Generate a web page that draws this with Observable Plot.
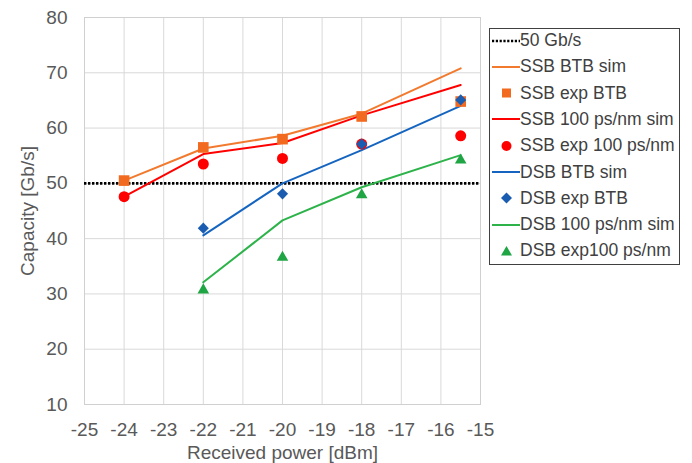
<!DOCTYPE html>
<html>
<head>
<meta charset="utf-8">
<script src="https://cdn.jsdelivr.net/npm/d3@7"></script>
<script src="https://cdn.jsdelivr.net/npm/@observablehq/plot@0.6"></script>
<style>
  html, body { margin: 0; padding: 0; background: #fff; }
  #wrap { position: relative; width: 692px; height: 463px; font-family: "Liberation Sans", Arial, sans-serif; }
  #legend { position: absolute; left: 489px; top: 28px; width: 191px; height: 237px; border: 1px solid #404040; box-sizing: border-box; }
  .row { position: absolute; left: 0; height: 22px; display: flex; align-items: center; }
  .row svg { width: 30px; height: 22px; flex: none; }
  .row span { font-size: 17.5px; color: #404040; margin-left: 0px; white-space: nowrap; }
</style>
</head>
<body>
<div id="wrap"></div>
<script>
// Data
const power = [-24, -22, -20, -18, -15.5];
const powerDsb = [-22, -20, -18, -15.5];
const ssbBtbSim = [50.5, 56.3, 58.6, 62.6, 70.8];
const ssbBtbExp = [50.5, 56.5, 58.0, 62.1, 64.8];
const ssb100Sim = [47.6, 55.3, 57.3, 62.3, 67.8];
const ssb100Exp = [47.6, 53.5, 54.5, 57.1, 58.6];
const dsbBtbSim = [40.6, 50.0, 56.0, 64.0];
const dsbBtbExp = [41.9, 48.1, 57.1, 65.1];
const dsb100Sim = [32.1, 43.3, 49.3, 55.1];
const dsb100Exp = [30.7, 36.6, 47.9, 54.2];
const threshold = [50];
const xTicks = [-25, -24, -23, -22, -21, -20, -19, -18, -17, -16, -15];
const yTicks = [10, 20, 30, 40, 50, 60, 70, 80];
const legendNames = ["50 Gb/s", "SSB BTB sim", "SSB exp BTB", "SSB 100 ps/nm sim", "SSB exp 100 ps/nm",
  "DSB BTB sim", "DSB exp BTB", "DSB 100 ps/nm sim", "DSB exp100 ps/nm"];

const C = {
  orangeLine: "#F27A2E", orange: "#F26A1F", red: "#FF0000",
  blueLine: "#1565C0", blue: "#1A5CB0", greenLine: "#2DB34A", green: "#1FA544"
};

const toRows = (xs, ys) => xs.map((x, i) => ({x, y: ys[i]}));

const chart = Plot.plot({
  width: 692, height: 463,
  marginLeft: 84, marginRight: 212, marginTop: 17, marginBottom: 59,
  style: {fontFamily: '"Liberation Sans", Arial, sans-serif', background: "transparent"},
  x: {domain: [-25, -15]},
  y: {domain: [10, 80]},
  marks: [
    Plot.gridX(xTicks, {stroke: "#d9d9d9", strokeOpacity: 1, strokeWidth: 1}),
    Plot.gridY(yTicks, {stroke: "#d9d9d9", strokeOpacity: 1, strokeWidth: 1}),
    Plot.frame({stroke: "#d0d0d0", strokeWidth: 1}),
    Plot.axisX(xTicks, {tickSize: 0, tickPadding: 18, tickFormat: d => `${d}`, fontSize: 19, color: "#595959",
      label: "Received power [dBm]", labelAnchor: "center", labelArrow: "none", labelOffset: 54}),
    Plot.axisY(yTicks, {tickSize: 0, tickPadding: 17, tickFormat: d => `${d}`, fontSize: 19, color: "#595959",
      label: "Capacity [Gb/s]", labelAnchor: "center", labelArrow: "none", labelOffset: 64}),
    Plot.ruleY(threshold, {stroke: "#000", strokeWidth: 2.6, strokeDasharray: "2.4 1.6"}),
    Plot.line(toRows(power, ssbBtbSim), {x: "x", y: "y", stroke: C.orangeLine, strokeWidth: 2}),
    Plot.line(toRows(power, ssb100Sim), {x: "x", y: "y", stroke: C.red, strokeWidth: 2}),
    Plot.line(toRows(powerDsb, dsbBtbSim), {x: "x", y: "y", stroke: C.blueLine, strokeWidth: 2}),
    Plot.line(toRows(powerDsb, dsb100Sim), {x: "x", y: "y", stroke: C.greenLine, strokeWidth: 2}),
    Plot.dot(toRows(power, ssbBtbExp), {x: "x", y: "y", symbol: "square", r: 6, fill: C.orange}),
    Plot.dot(toRows(power, ssb100Exp), {x: "x", y: "y", symbol: "circle", r: 5.5, fill: C.red}),
    Plot.dot(toRows(powerDsb, dsbBtbExp), {x: "x", y: "y", symbol: "diamond2", r: 5, fill: C.blue}),
    Plot.dot(toRows(powerDsb, dsb100Exp), {x: "x", y: "y", symbol: "triangle", r: 4.3, fill: C.green})
  ]
});

const wrap = document.getElementById("wrap");
wrap.appendChild(chart);

// Legend
const legendStyles = [
  {type: "dot", color: "#000"},
  {type: "line", color: C.orangeLine},
  {type: "square", color: C.orange},
  {type: "line", color: C.red},
  {type: "circle", color: C.red},
  {type: "line", color: C.blueLine},
  {type: "diamond", color: C.blue},
  {type: "line", color: C.greenLine},
  {type: "triangle", color: C.green}
];
const legend = document.createElement("div");
legend.id = "legend";
legendNames.forEach((name, i) => {
  const s = legendStyles[i];
  const row = document.createElement("div");
  row.className = "row";
  row.style.top = (0.5 + i * 26.3) + "px";
  let sym = "";
  if (s.type === "dot") sym = `<line x1="2" x2="30" y1="11" y2="11" stroke="#000" stroke-width="2.4" stroke-dasharray="2.2 1.6"/>`;
  else if (s.type === "line") sym = `<line x1="2" x2="30" y1="11" y2="11" stroke="${s.color}" stroke-width="2"/>`;
  else if (s.type === "square") sym = `<rect x="12" y="6.5" width="9" height="9" fill="${s.color}"/>`;
  else if (s.type === "circle") sym = `<circle cx="16.5" cy="11" r="5" fill="${s.color}"/>`;
  else if (s.type === "diamond") sym = `<path d="M16.5 5.5 L22 11 L16.5 16.5 L11 11 Z" fill="${s.color}"/>`;
  else if (s.type === "triangle") sym = `<path d="M16.5 6 L22 15.5 L11 15.5 Z" fill="${s.color}"/>`;
  row.innerHTML = `<svg viewBox="0 0 30 22">${sym}</svg><span>${name}</span>`;
  legend.appendChild(row);
});
wrap.appendChild(legend);
</script>
</body>
</html>
